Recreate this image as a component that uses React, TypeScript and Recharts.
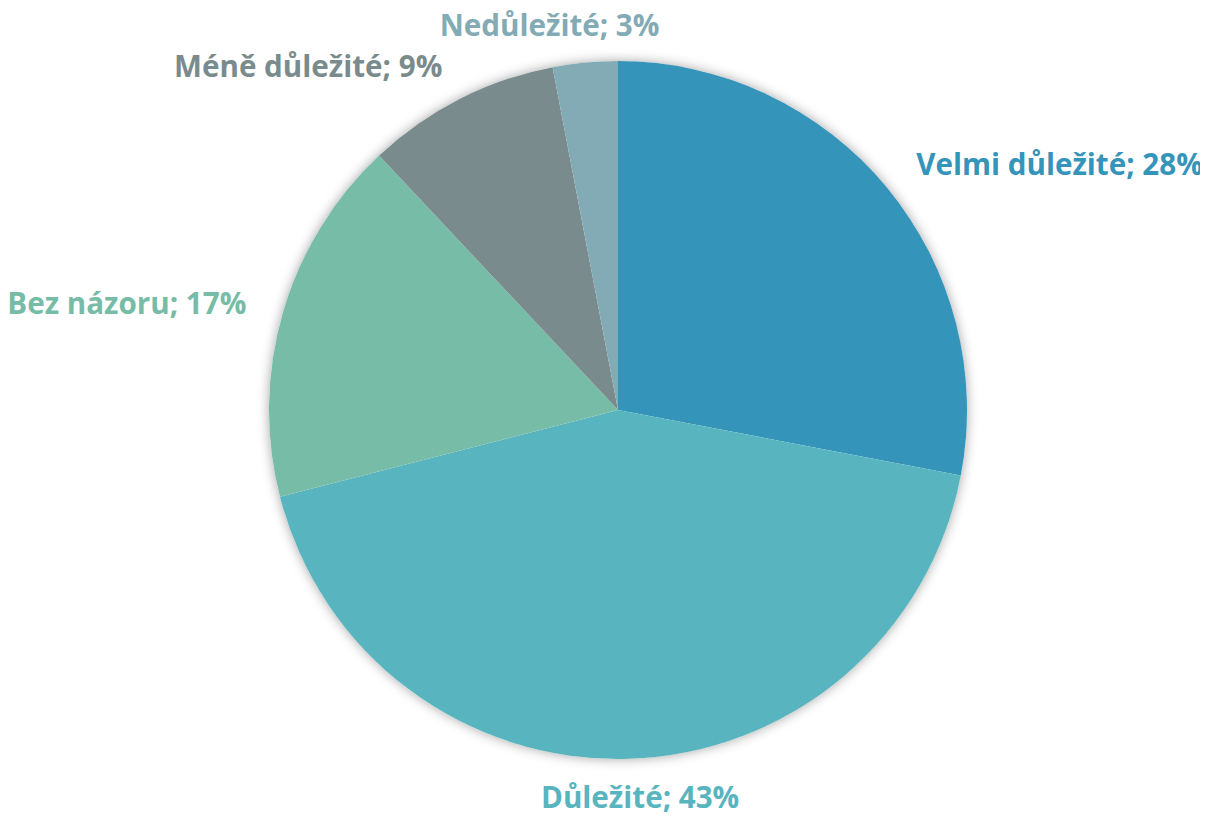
import { PieChart, Pie, Cell } from 'recharts';

const LABELS = ['Velmi důležité', 'Důležité', 'Bez názoru', 'Méně důležité', 'Nedůležité'];
const VALUES = [28, 43, 17, 9, 3];
const COLORS = ['#3594BA', '#58B5BF', '#76BCA6', '#798B8C', '#83ABB5'];

const data = LABELS.map((name, i) => ({ name, value: VALUES[i] }));

const RADIAN = Math.PI / 180;

// label outside the slice, anchored on the side it falls on
function renderLabel(props: any) {
  const { cx, cy, midAngle, outerRadius, index, name, value } = props;
  const r = outerRadius + 38;
  let x = cx + r * Math.cos(-midAngle * RADIAN);
  const y = cy + r * Math.sin(-midAngle * RADIAN);
  const dx = x - cx;
  let anchor: 'start' | 'end' | 'middle' = 'middle';
  if (dx > 100) anchor = 'start';
  else if (dx < -100) anchor = 'end';
  else if (y < cy) x -= 32; // top label sits a bit left, like the original
  else x += 10;
  return (
    <text
      x={x}
      y={y}
      fill={COLORS[index]}
      textAnchor={anchor}
      dominantBaseline="central"
      fontFamily="'Open Sans', sans-serif"
      fontWeight={700}
      fontSize={29.6}
    >
      {`${name}; ${value}%`}
    </text>
  );
}

export default function App() {
  return (
    <div style={{ width: 1200, height: 808 }}>
      <style>{`
        .pie-shadow .recharts-sector { filter: drop-shadow(0 0 6px rgba(0,0,0,0.35)); }
        .recharts-surface { overflow: visible; }
      `}</style>
      <PieChart width={1200} height={808} margin={{ top: 0, right: 0, bottom: 0, left: 0 }}>
        <Pie
          className="pie-shadow"
          data={[{ value: 1 }]}
          dataKey="value"
          cx={610}
          cy={402}
          outerRadius={349}
          startAngle={90}
          endAngle={-270}
          stroke="none"
          fill="#ffffff"
          label={false}
          labelLine={false}
          isAnimationActive={false}
        />
        <Pie
          data={data}
          dataKey="value"
          nameKey="name"
          cx={610}
          cy={402}
          outerRadius={349}
          startAngle={90}
          endAngle={-270}
          stroke="none"
          label={renderLabel}
          labelLine={false}
          isAnimationActive={false}
        >
          {data.map((d, i) => (
            <Cell key={d.name} fill={COLORS[i]} />
          ))}
        </Pie>
      </PieChart>
    </div>
  );
}
